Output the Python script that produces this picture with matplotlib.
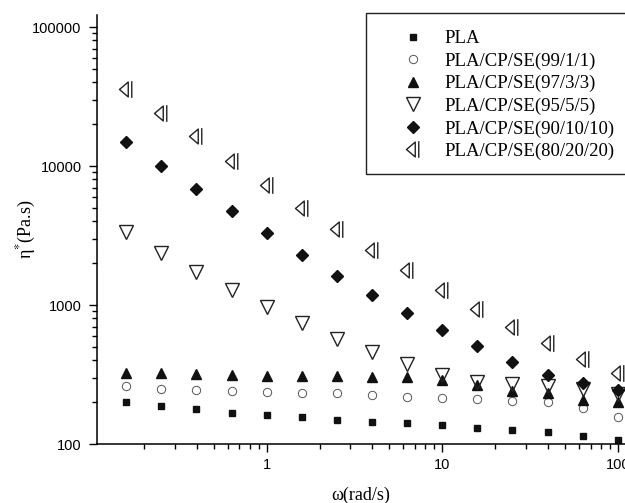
import numpy as np
import matplotlib
matplotlib.use('Agg')
import matplotlib.pyplot as plt
from matplotlib.path import Path
from matplotlib.patches import Rectangle
from matplotlib.ticker import LogLocator, NullFormatter, FixedLocator

# angular frequency (rad/s)
omega = [0.158, 0.251, 0.398, 0.631, 1.0, 1.58, 2.51, 3.98, 6.31, 10.0,
         15.8, 25.1, 39.8, 63.1, 100.0]

# complex viscosity eta* (Pa.s)
eta_pla = [201, 189, 180, 168, 161, 156, 149, 145, 141, 136, 131, 126, 123, 115, 106]
eta_99 = [260, 250, 246, 242, 238, 234, 232, 225, 219, 215, 210, 205, 200, 182, 157]
eta_97 = [323, 323, 317, 313, 310, 307, 308, 305, 302, 289, 266, 242, 232, 207, 201]
eta_95 = [3370, 2370, 1730, 1280, 968, 739, 572, 457, 378, 314, 281, 270, 260, 250, 229]
eta_90 = [14960, 10050, 6840, 4770, 3280, 2290, 1620, 1175, 872, 661, 507, 391, 315, 276, 245]
eta_80 = [35600, 24200, 16400, 10900, 7300, 5010, 3510, 2490, 1790, 1280, 940, 698, 530, 411, 323]

labels = ['PLA', 'PLA/CP/SE(99/1/1)', 'PLA/CP/SE(97/3/3)', 'PLA/CP/SE(95/5/5)',
          'PLA/CP/SE(90/10/10)', 'PLA/CP/SE(80/20/20)']

# left triangle with the doubled back edge seen in the original scan
tri_verts = [(-0.8, 0.0), (0.2, 0.85), (0.2, -0.85), (-0.8, 0.0),
             (0.6, 0.95), (0.6, -0.95)]
tri_codes = [Path.MOVETO, Path.LINETO, Path.LINETO, Path.CLOSEPOLY,
             Path.MOVETO, Path.LINETO]
left_tri = Path(tri_verts, tri_codes)

serif = 'Liberation Serif'
sans = 'Liberation Sans'
plt.rcParams['mathtext.fontset'] = 'stix'

fig = plt.figure(figsize=(6.25, 5.03), dpi=100)
ax = fig.add_axes([97 / 625, 59 / 503, 528 / 625, 429 / 503])

ax.plot(omega, eta_pla, ls='none', marker='s', ms=5, color='#111111', label=labels[0])
ax.plot(omega, eta_99, ls='none', marker='o', ms=6, mfc='none', mec='#555555',
        mew=0.7, label=labels[1])
ax.plot(omega, eta_97, ls='none', marker='^', ms=7, color='#111111', label=labels[2])
ax.plot(omega, eta_95, ls='none', marker='v', ms=10, mfc='none', mec='#222222',
        mew=1.0, label=labels[3])
ax.plot(omega, eta_90, ls='none', marker='D', ms=6, color='#111111', label=labels[4])
ax.plot(omega, eta_80, ls='none', marker=left_tri, ms=12, mfc='none', mec='#222222',
        mew=1.0, label=labels[5])

ax.set_xscale('log')
ax.set_yscale('log')
ax.set_xlim(0.108, 110)
ax.set_ylim(100, 122000)

ax.spines['top'].set_visible(False)
ax.spines['right'].set_visible(False)
for s in ['left', 'bottom']:
    ax.spines[s].set_linewidth(1.1)

ax.xaxis.set_major_locator(FixedLocator([1, 10, 100]))
ax.set_xticklabels(['1', '10', '100'])
ax.yaxis.set_major_locator(FixedLocator([100, 1000, 10000, 100000]))
ax.set_yticklabels(['100', '1000', '10000', '100000'])
ax.xaxis.set_minor_locator(LogLocator(base=10, subs=np.arange(2, 10)))
ax.yaxis.set_minor_locator(LogLocator(base=10, subs=np.arange(2, 10)))
ax.xaxis.set_minor_formatter(NullFormatter())
ax.yaxis.set_minor_formatter(NullFormatter())
ax.tick_params(which='major', direction='out', length=6, width=1.0, labelsize=10.5, pad=4)
ax.tick_params(which='minor', direction='out', length=3.5, width=1.0)
ax.tick_params(axis='y', which='major', pad=5)
for t in ax.get_xticklabels() + ax.get_yticklabels():
    t.set_fontfamily(sans)

ax.set_xlabel('ω(rad/s)', fontsize=13, family=serif)
ax.set_ylabel('η$^{*}$(Pa.s)', fontsize=13, family=serif)
ax.xaxis.set_label_coords(0.5, -0.1)
ax.yaxis.set_label_coords(-0.112, 0.5)

leg = ax.legend(loc='upper left', bbox_to_anchor=(390 / 625, 1 - 17 / 503),
                bbox_transform=fig.transFigure, frameon=False,
                prop={'family': serif, 'size': 13.5}, handlelength=1.1,
                handletextpad=1.1, labelspacing=0.28, borderpad=0.2,
                numpoints=1)

# legend box runs off the right edge of the figure
fig.patches.append(Rectangle((366 / 625, 1 - 174 / 503), 300 / 625, 161 / 503,
                             transform=fig.transFigure, fill=False,
                             edgecolor='#222222', linewidth=1.0, clip_on=False))

fig.savefig('out.png', dpi=100)
